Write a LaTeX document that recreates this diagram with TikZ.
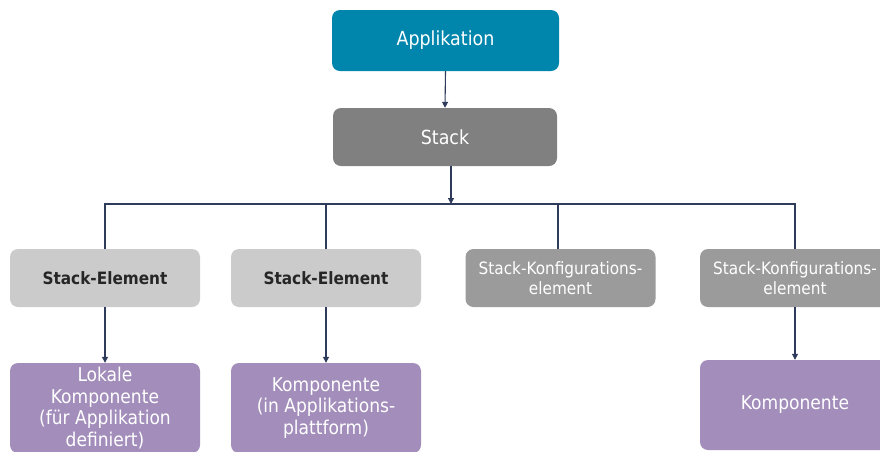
\documentclass[tikz,border=0pt]{standalone}
\usepackage{fontspec}
\setmainfont{DejaVu Sans Condensed}
\usetikzlibrary{arrows.meta}
\definecolor{appblue}{HTML}{0085AD}
\definecolor{stackgray}{HTML}{808080}
\definecolor{elemgray}{HTML}{CBCBCB}
\definecolor{confgray}{HTML}{9B9B9B}
\definecolor{comppurple}{HTML}{A28DBB}
\definecolor{linecol}{HTML}{2F3B5A}
\begin{document}
\begin{tikzpicture}[x=1pt,y=-1pt,
  box/.style={rectangle, rounded corners=8pt, inner sep=2pt, align=center},
  appbox/.style={box, fill=appblue, text=white, minimum width=227pt, minimum height=61pt, font=\fontsize{19.4}{22}\selectfont},
  stackbox/.style={box, fill=stackgray, text=white, minimum width=224pt, minimum height=58pt, font=\fontsize{19.4}{22}\selectfont},
  elembox/.style={box, fill=elemgray, text=black!85, minimum width=190pt, minimum height=58pt, font=\fontsize{17}{20}\bfseries},
  confbox/.style={box, fill=confgray, text=white, minimum width=190pt, minimum height=58pt, font=\fontsize{17}{19.5}\selectfont},
  compbox/.style={box, fill=comppurple, text=white, minimum width=190pt, minimum height=90pt, font=\fontsize{19}{21.7}\selectfont},
  conn/.style={draw=linecol, line width=1.1pt},
  arr/.style={conn, -{Triangle[length=6pt,width=6pt]}}
]
\useasboundingbox (0,0) rectangle (880,451);
\clip (0,0) rectangle (880,451);
\node[appbox] (app) at (445.5,40.5) {\raisebox{-2pt}{Applikation}};
\node[stackbox] (stack) at (445,137) {Stack};
\node[elembox] (se1) at (105,278) {Stack-Element};
\node[elembox] (se2) at (326,278) {Stack-Element};
\node[confbox] (sk1) at (560.5,278) {Stack-Konfigurations-\\element};
\node[confbox] (sk2) at (795,278) {Stack-Konfigurations-\\element};
\node[compbox] (c1) at (105,408) {Lokale\\Komponente\\(für Applikation\\definiert)};
\node[compbox] (c2) at (326,408) {Komponente\\(in Applikations-\\plattform)};
\node[compbox] (c3) at (795,405) {\raisebox{-4pt}{Komponente}};
\coordinate (bus) at (451,204);
\draw[arr] (app.south) -- (stack.north);
\draw[arr] (stack.south -| bus) -- (bus);
\draw[conn] (se1.north) -- (se1.north |- bus) -- (sk2.north |- bus) -- (sk2.north);
\draw[conn] (se2.north) -- (se2.north |- bus);
\draw[conn] (sk1.north -| 558,0) -- (558,204);
\draw[arr] (se1.south) -- (c1.north);
\draw[arr] (se2.south) -- (c2.north);
\draw[arr] (sk2.south) -- (c3.north);
\end{tikzpicture}
\end{document}
